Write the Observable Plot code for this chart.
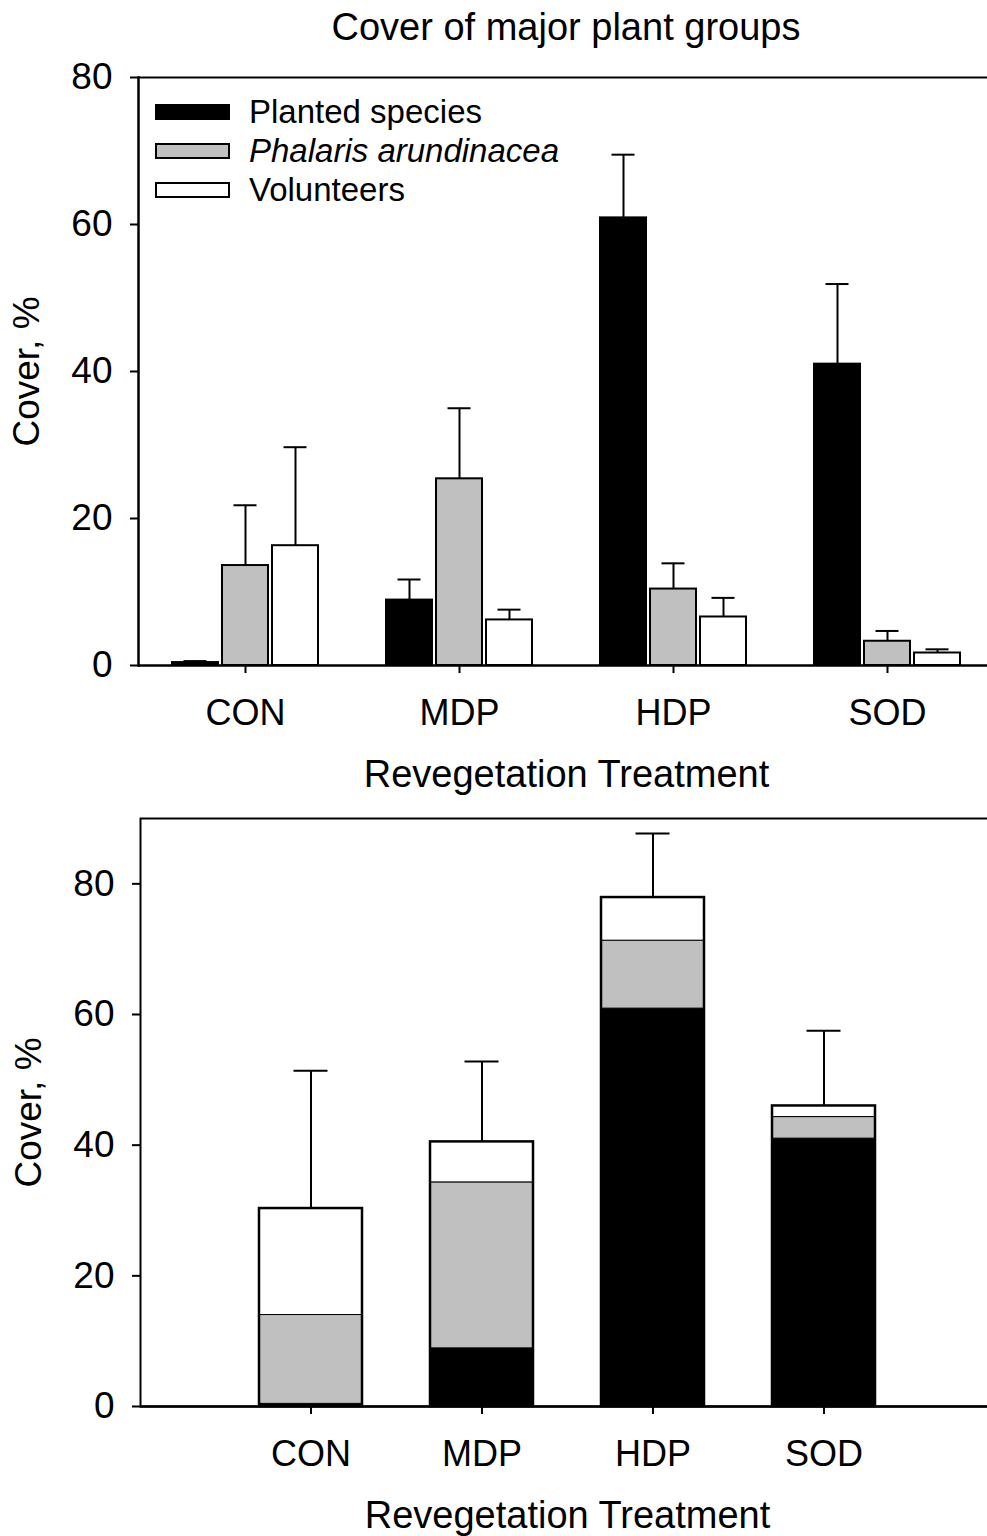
<!DOCTYPE html>
<html><head><meta charset="utf-8">
<script src="https://cdn.jsdelivr.net/npm/d3@7"></script>
<script src="https://cdn.jsdelivr.net/npm/@observablehq/plot@0.6"></script>
<style>
html,body{margin:0;padding:0;background:#fff;overflow:hidden;}
body{font-family:"Liberation Sans",Arial,sans-serif;color:#000;}
#wrap{position:relative;width:987px;height:1536px;}
.abs{position:absolute;}
#title{left:138px;width:856px;top:5px;text-align:center;font-size:38px;line-height:44px;}
#legend{left:155px;top:92px;font-size:33px;}
.row{display:flex;align-items:center;height:39px;}
.sw{width:71px;height:12px;border:2px solid #000;margin-right:19px;}
</style></head><body>
<div id="wrap">
  <div id="top" class="abs" style="left:0;top:0"></div>
  <div id="bottom" class="abs" style="left:0;top:800px"></div>
  <div id="title" class="abs">Cover of major plant groups</div>
  <div id="legend" class="abs"></div>
</div>
<script>
// ---- data ----
const treatments = ["CON", "MDP", "HDP", "SOD"];
const groups = ["Planted species", "Phalaris arundinacea", "Volunteers"];
const groupFills = ["#000000", "#c0c0c0", "#ffffff"];
const groupFontStyles = ["normal", "italic", "normal"];

const plantedMean = [0.4, 8.9, 60.9, 41.0];
const plantedSE   = [0.2, 2.8, 8.6, 10.9];
const phalarisMean = [13.6, 25.4, 10.4, 3.3];
const phalarisSE   = [8.2, 9.6, 3.5, 1.4];
const volunteersMean = [16.3, 6.2, 6.6, 1.7];
const volunteersSE   = [13.4, 1.4, 2.6, 0.5];
const totalSE = [21.1, 12.3, 9.8, 11.5];

const yTicksTop = [0, 20, 40, 60, 80];
const yTicksBottom = [0, 20, 40, 60, 80];
const yDomainTop = [0, 80];
const yDomainBottom = [0, 90];

const xTitle = "Revegetation Treatment";
const yTitle = "Cover, %";

// ---- tables ----
const means = [plantedMean, phalarisMean, volunteersMean];
const ses = [plantedSE, phalarisSE, volunteersSE];
const rows = [];
treatments.forEach((t, i) => {
  groups.forEach((g, j) => rows.push({treatment: t, group: g, mean: means[j][i], se: ses[j][i]}));
});
const totals = treatments.map((t, i) => ({
  treatment: t,
  total: means.reduce((s, m) => s + m[i], 0),
  se: totalSE[i]
}));

const font = "Liberation Sans, Arial, sans-serif";

// ---- top panel ----
const topPlot = Plot.plot({
  width: 987, height: 800,
  marginLeft: 138, marginRight: -7, marginTop: 77, marginBottom: 135,
  style: {fontFamily: font, color: "#000", background: "transparent", overflow: "hidden"},
  fx: {domain: treatments, padding: 0},
  x: {domain: groups, paddingInner: 0.08, paddingOuter: 0.68, axis: null},
  y: {domain: yDomainTop},
  color: {domain: groups, range: groupFills},
  marks: [
    Plot.barY(rows, {fx: "treatment", x: "group", y: "mean", fill: "group", stroke: "#000", strokeWidth: 2}),
    Plot.ruleX(rows, {fx: "treatment", x: "group", y1: "mean", y2: d => d.mean + d.se, stroke: "#000", strokeWidth: 2}),
    Plot.tickY(rows, {fx: "treatment", x: "group", y: d => d.mean + d.se, stroke: "#000", strokeWidth: 2, insetLeft: 11.5, insetRight: 11.5}),
    Plot.ruleY([yDomainTop[1]], {stroke: "#000", strokeWidth: 2}),
    Plot.ruleY([0], {stroke: "#000", strokeWidth: 2.5}),
    Plot.frame({anchor: "left", facetAnchor: "left", stroke: "#000", strokeWidth: 2.5}),
    Plot.axisY({ticks: yTicksTop, tickFormat: d => d, tickSize: 8, tickPadding: 18, strokeWidth: 2, fontSize: 37,
      label: yTitle, labelArrow: "none", labelAnchor: "center", labelOffset: 126}),
    Plot.axisFx({anchor: "bottom", tickSize: 8, tickPadding: 26, strokeWidth: 2, fontSize: 36, label: null}),
    Plot.axisFx({anchor: "bottom", ticks: [], fontSize: 38,
      label: xTitle, labelArrow: "none", labelAnchor: "center", labelOffset: 121})
  ]
});
document.getElementById("top").appendChild(topPlot);

// ---- bottom panel ----
const bottomPlot = Plot.plot({
  width: 987, height: 736,
  marginLeft: 140, marginRight: -7, marginTop: 18, marginBottom: 130,
  style: {fontFamily: font, color: "#000", background: "transparent", overflow: "hidden"},
  x: {domain: treatments, paddingInner: 0.4, paddingOuter: 0.697},
  y: {domain: yDomainBottom},
  color: {domain: groups, range: groupFills},
  marks: [
    Plot.barY(rows, {x: "treatment", y: "mean", fill: "group", stroke: "#000", strokeWidth: 1}),
    Plot.barY(totals, {x: "treatment", y: "total", fill: "none", stroke: "#000", strokeWidth: 2.5}),
    Plot.ruleX(totals, {x: "treatment", y1: "total", y2: d => d.total + d.se, stroke: "#000", strokeWidth: 2}),
    Plot.tickY(totals, {x: "treatment", y: d => d.total + d.se, stroke: "#000", strokeWidth: 2, insetLeft: 34.5, insetRight: 34.5}),
    Plot.frame({stroke: "#000", strokeWidth: 2}),
    Plot.ruleY([0], {stroke: "#000", strokeWidth: 2.5}),
    Plot.axisY({ticks: yTicksBottom, tickFormat: d => d, tickSize: 8, tickPadding: 18, strokeWidth: 2, fontSize: 37,
      label: yTitle, labelArrow: "none", labelAnchor: "center", labelOffset: 126}),
    Plot.axisX({tickSize: 8, tickPadding: 26, strokeWidth: 2, fontSize: 36, label: null}),
    Plot.axisX({ticks: [], fontSize: 38,
      label: xTitle, labelArrow: "none", labelAnchor: "center", labelOffset: 121})
  ]
});
document.getElementById("bottom").appendChild(bottomPlot);

// ---- legend ----
const legend = document.getElementById("legend");
groups.forEach((g, j) => {
  const row = document.createElement("div");
  row.className = "row";
  const sw = document.createElement("div");
  sw.className = "sw";
  sw.style.background = groupFills[j];
  const lab = document.createElement("span");
  lab.textContent = g;
  lab.style.fontStyle = groupFontStyles[j];
  row.appendChild(sw); row.appendChild(lab);
  legend.appendChild(row);
});
</script>
</body></html>
